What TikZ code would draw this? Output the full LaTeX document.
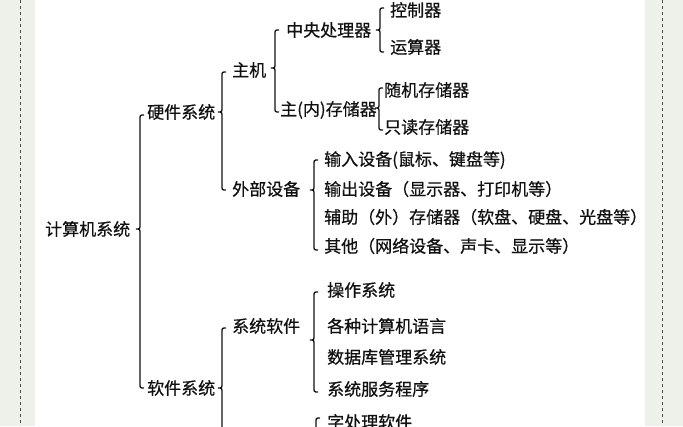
\documentclass[tikz,border=0pt]{standalone}
\usepackage{fontspec}
\newfontfamily\cjk[FakeBold=0.6]{Noto Sans CJK SC}
\definecolor{bgc}{HTML}{EEF1EA}
\definecolor{txt}{HTML}{111111}
\newcommand\mybrace[4]{% x, top, tip, bottom
 \draw[brc] (#1+4,#2) .. controls (#1,#2) .. (#1,#2+5) -- (#1,#3-5) .. controls (#1,#3) .. (#1-4,#3) .. controls (#1,#3) .. (#1,#3+5) -- (#1,#4-5) .. controls (#1,#4) .. (#1+4,#4);}
\begin{document}
\begin{tikzpicture}[x=1pt,y=-1pt,
 lbl/.style={anchor=west,inner sep=0pt,font=\cjk\fontsize{17}{17}\selectfont,text=txt},
 brc/.style={line width=1.3pt,draw=txt}]
\useasboundingbox (0,0) rectangle (683,426);
\fill[bgc] (0,0) rectangle (683,426);
\fill[white] (35,0) rectangle (645,426);
\draw[dashed,line width=0.9pt,gray!60!black] (20,0) -- (20,426) (662,0) -- (662,426);
% level texts
\node[lbl] (root) at (45,229) {计算机系统};
\node[lbl] (hw) at (147,112) {硬件系统};
\node[lbl] (sw) at (147,388) {软件系统};
\node[lbl] (host) at (232,70) {主机};
\node[lbl] (ext) at (232,189) {外部设备};
\node[lbl] (cpu) at (286,30) {中央处理器};
\node[lbl] (mem) at (280,110) {主(内)存储器};
\node[lbl] (ctl) at (390,10) {控制器};
\node[lbl] (alu) at (390,47) {运算器};
\node[lbl] (ram) at (384,90) {随机存储器};
\node[lbl] (rom) at (384,127) {只读存储器};
\node[lbl] (in) at (324,160) {输入设备(鼠标、键盘等)};
\node[lbl] (out) at (324,189) {输出设备（显示器、打印机等）};
\node[lbl] (aux) at (324,217) {辅助（外）存储器（软盘、硬盘、光盘等）};
\node[lbl] (oth) at (324,246) {其他（网络设备、声卡、显示等）};
\node[lbl] (sys) at (232,326) {系统软件};
\node[lbl] (os) at (327,290) {操作系统};
\node[lbl] (lang) at (327,326) {各种计算机语言};
\node[lbl] (db) at (327,357) {数据库管理系统};
\node[lbl] (svc) at (327,389) {系统服务程序};
\node[lbl] (wp) at (327,422) {字处理软件};
% braces
\mybrace{140}{115}{229}{388}
\mybrace{222}{72}{112}{190}
\mybrace{222}{328}{388}{440}
\mybrace{275}{30}{68}{112}
\mybrace{380}{8}{30}{52}
\mybrace{379}{88}{108}{130}
\mybrace{314}{160}{190}{250}
\mybrace{314}{292}{340}{392}
\mybrace{316}{418}{440}{460}
\end{tikzpicture}
\end{document}
